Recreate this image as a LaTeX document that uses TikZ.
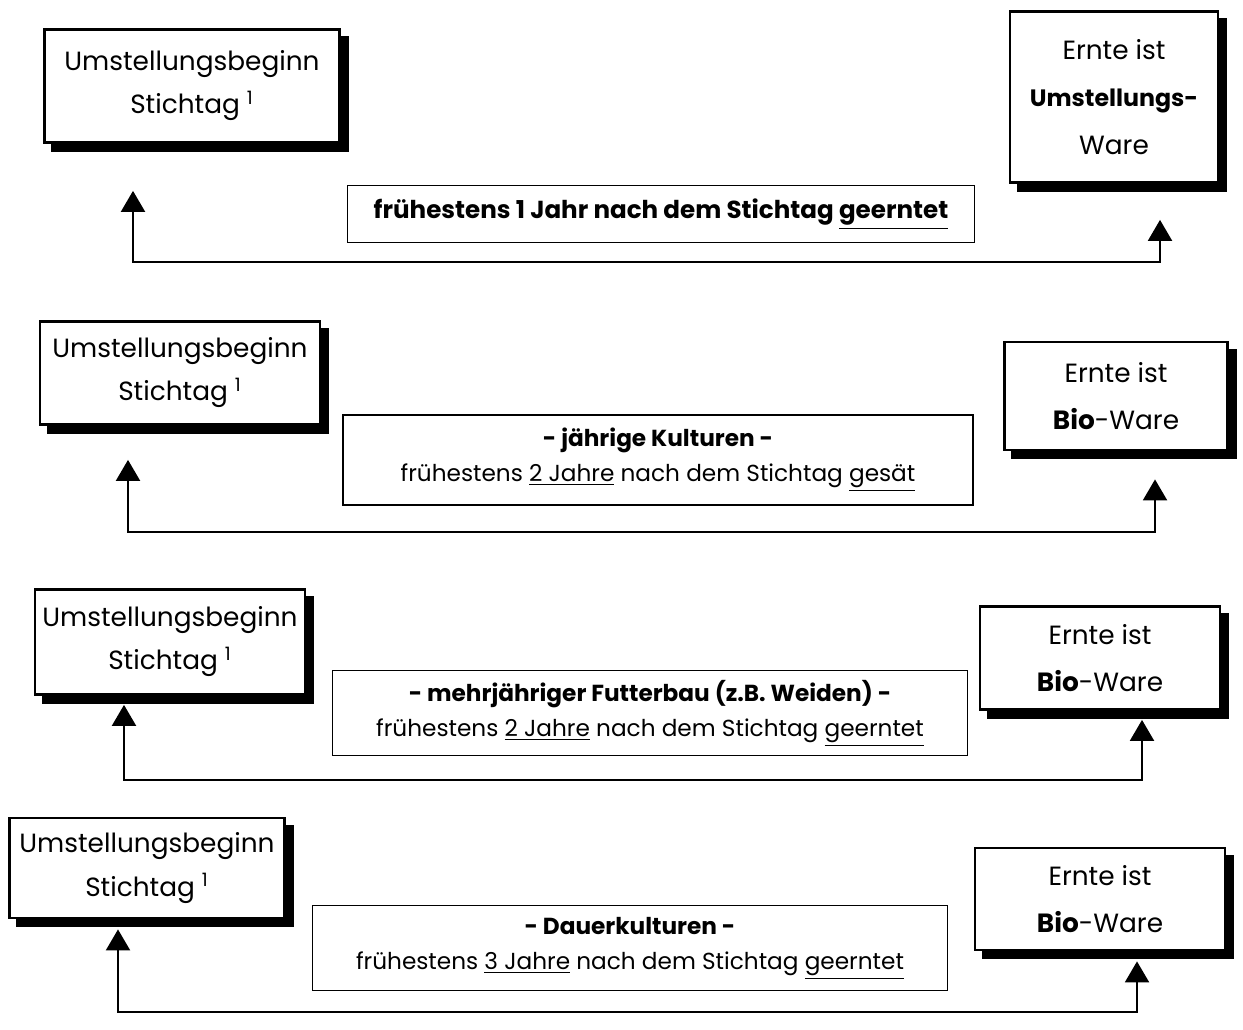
\documentclass[tikz,border=0pt]{standalone}
\usepackage{fontspec}
\setmainfont{Poppins}
\usetikzlibrary{arrows.meta,calc,shadows}
\begin{document}
\begin{tikzpicture}[x=0.02cm,y=-0.02cm,
  shbox/.style={draw=black, line width=1.6pt, fill=white, align=center, inner sep=0pt,
    copy shadow={shadow xshift=0.16cm, shadow yshift=-0.16cm, fill=black, draw=black}},
  lbox/.style={shbox, font=\fontsize{15}{24.5}\selectfont},
  rbox/.style={shbox, font=\fontsize{15}{27}\selectfont},
  mbox/.style={draw=black, line width=0.9pt, fill=white, align=center, inner sep=0pt,
    font=\fontsize{13.2}{20}\selectfont},
  conn/.style={line width=1.2pt, {Triangle[width=0.48cm,length=0.42cm]}-{Triangle[width=0.48cm,length=0.42cm]}}
]
\useasboundingbox[fill=white] (0,0) rectangle (1243,1030);

% Row 1
\node[lbox, minimum width=5.9cm, minimum height=2.26cm] (L1) at (192,86) {Umstellungsbeginn\\Stichtag \textsuperscript{1}};
\node[rbox, minimum width=4.16cm, minimum height=3.42cm] (R1) at (1114,97) {Ernte ist\\{\fontsize{13.5}{27}\selectfont\textbf{Umstellungs-}}\\Ware};
\node[mbox, minimum width=12.54cm, minimum height=1.14cm, font=\fontsize{14}{20}\selectfont] (M1) at (661,214) {\textbf{frühestens 1 Jahr nach dem Stichtag \underline{geerntet}}};
\coordinate (a1) at ($(L1.south)+(-59,47)$);
\coordinate (c1) at ($(R1.south)+(46,36)$);
\coordinate (b1) at (646,262);

% Row 2
\node[lbox, minimum width=5.6cm, minimum height=2.06cm] (L2) at (180,373) {Umstellungsbeginn\\Stichtag \textsuperscript{1}};
\node[rbox, minimum width=4.46cm, minimum height=2.16cm] (R2) at (1116,396) {Ernte ist\\\textbf{Bio}-Ware};
\node[mbox, minimum width=12.6cm, minimum height=1.8cm] (M2) at (658,460) {\textbf{- jährige Kulturen -}\\frühestens \underline{2 Jahre} nach dem Stichtag \underline{gesät}};
\coordinate (a2) at ($(L2.south)+(-52,34)$);
\coordinate (c2) at ($(R2.south)+(39,28)$);
\coordinate (b2) at (640,532);

% Row 3
\node[lbox, minimum width=5.4cm, minimum height=2.1cm] (L3) at (170,642) {Umstellungsbeginn\\Stichtag \textsuperscript{1}};
\node[rbox, minimum width=4.8cm, minimum height=2.06cm] (R3) at (1100,658) {Ernte ist\\\textbf{Bio}-Ware};
\node[mbox, minimum width=12.7cm, minimum height=1.7cm] (M3) at (650,713) {\textbf{- mehrjähriger Futterbau (z.B. Weiden) -}\\frühestens \underline{2 Jahre} nach dem Stichtag \underline{geerntet}};
\coordinate (a3) at ($(L3.south)+(-46,9)$);
\coordinate (c3) at ($(R3.south)+(42,9)$);
\coordinate (b3) at (630,780);

% Row 4
\node[lbox, minimum width=5.5cm, minimum height=2.0cm] (L4) at (147,868) {Umstellungsbeginn\\Stichtag \textsuperscript{1}};
\node[rbox, minimum width=5.0cm, minimum height=2.04cm] (R4) at (1100,899) {Ernte ist\\\textbf{Bio}-Ware};
\node[mbox, minimum width=12.7cm, minimum height=1.7cm] (M4) at (630,948) {\textbf{- Dauerkulturen -}\\frühestens \underline{3 Jahre} nach dem Stichtag \underline{geerntet}};
\coordinate (a4) at ($(L4.south)+(-29,10)$);
\coordinate (c4) at ($(R4.south)+(37,10)$);
\coordinate (b4) at (620,1012);

\draw[conn] (a1) |- (b1) -| (c1);
\draw[conn] (a2) |- (b2) -| (c2);
\draw[conn] (a3) |- (b3) -| (c3);
\draw[conn] (a4) |- (b4) -| (c4);
\end{tikzpicture}
\end{document}
